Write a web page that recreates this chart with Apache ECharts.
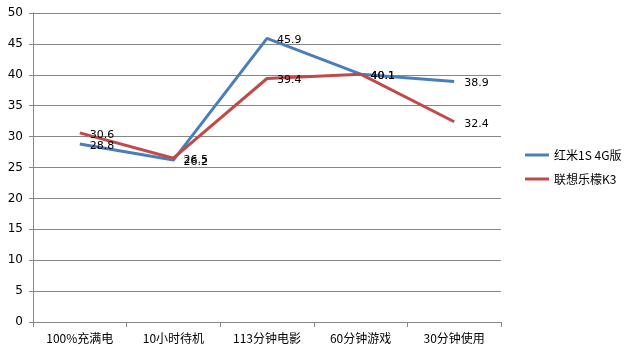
<!DOCTYPE html>
<html>
<head>
<meta charset="utf-8">
<script src="https://cdn.jsdelivr.net/npm/echarts@6/dist/echarts.min.js"></script>
<style>
  html, body { margin: 0; padding: 0; background: #fff; }
  #main { width: 636px; height: 354px; }
</style>
</head>
<body>
<div id="main"></div>
<script>
var categories = ['100%充满电', '10小时待机', '113分钟电影', '60分钟游戏', '30分钟使用'];
var hongmi = [28.8, 26.2, 45.9, 40.1, 38.9];
var lenovo = [30.6, 26.5, 39.4, 40.1, 32.4];
var seriesNames = ['红米1S 4G版', '联想乐檬K3'];

var myChart = echarts.init(document.getElementById('main'));
var labelStyle = {
    show: true,
    position: 'right',
    distance: 10,
    offset: [0, 2],
    color: '#000',
    fontSize: 11,
    fontFamily: 'DejaVu Sans'
};
myChart.setOption({
    backgroundColor: '#fff',
    animation: false,
    textStyle: { fontFamily: 'Noto Sans CJK SC' },
    grid: { left: 33, right: 135, top: 13, bottom: 32 },
    legend: {
        orient: 'vertical',
        left: 520,
        top: 144,
        itemWidth: 24,
        itemHeight: 3,
        itemGap: 12,
        icon: 'rect',
        textStyle: { fontSize: 12, color: '#000', fontFamily: 'Noto Sans CJK SC' },
        data: seriesNames
    },
    xAxis: {
        type: 'category',
        data: categories,
        boundaryGap: true,
        axisLine: { lineStyle: { color: '#868686' } },
        axisTick: { show: true, length: 5, lineStyle: { color: '#868686' } },
        axisLabel: { color: '#000', fontSize: 12, margin: 10 }
    },
    yAxis: {
        type: 'value',
        min: 0,
        max: 50,
        interval: 5,
        axisLine: { show: true, lineStyle: { color: '#868686' } },
        axisTick: { show: true, length: 4, lineStyle: { color: '#868686' } },
        axisLabel: { color: '#000', fontSize: 12, margin: 10, fontFamily: 'DejaVu Sans' },
        splitLine: { lineStyle: { color: '#868686' } }
    },
    series: [
        {
            name: seriesNames[0],
            type: 'line',
            data: hongmi,
            showSymbol: true,
            symbol: 'circle',
            symbolSize: 0,
            itemStyle: { color: '#4a7ebb' },
            lineStyle: { color: '#4a7ebb', width: 3 },
            label: labelStyle
        },
        {
            name: seriesNames[1],
            type: 'line',
            data: lenovo,
            showSymbol: true,
            symbol: 'circle',
            symbolSize: 0,
            itemStyle: { color: '#be4b48' },
            lineStyle: { color: '#be4b48', width: 3 },
            label: labelStyle
        }
    ]
});
</script>
</body>
</html>
